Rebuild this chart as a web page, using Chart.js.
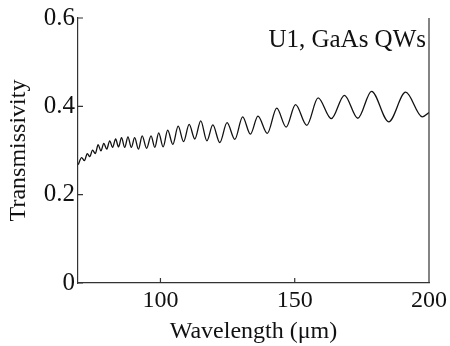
<!DOCTYPE html>
<html>
<head>
<meta charset="utf-8">
<script src="https://cdn.jsdelivr.net/npm/chart.js@4.4.1/dist/chart.umd.min.js"></script>
<style>
  html, body { margin: 0; padding: 0; background: #fff; }
  #wrap { width: 450px; height: 346px; }
</style>
</head>
<body>
<div id="wrap"><canvas id="transChart"></canvas></div>
<script>
// peaks and troughs
const wavelength = [69.4, 70.65, 71.7, 72.75, 73.7, 74.7, 75.75, 76.8, 77.85, 78.9, 80.0, 81.1, 82.2, 83.3, 84.4, 85.5, 86.7, 87.9, 89.15, 90.4, 91.8, 93.2, 94.85, 96.5, 97.9, 99.35, 101.0, 102.7, 104.6, 106.6, 108.6, 110.7, 112.8, 115.0, 117.3, 119.5, 122.1, 124.8, 127.7, 130.6, 133.5, 136.3, 139.8, 143.3, 146.8, 150.3, 154.5, 158.7, 163.6, 168.5, 173.5, 178.6, 185.0, 191.3, 197.5, 200.0];
const transmissivity = [0.268, 0.284, 0.277, 0.293, 0.286, 0.301, 0.293, 0.313, 0.299, 0.316, 0.303, 0.322, 0.307, 0.326, 0.308, 0.329, 0.307, 0.331, 0.307, 0.329, 0.303, 0.333, 0.305, 0.333, 0.307, 0.340, 0.308, 0.346, 0.314, 0.355, 0.320, 0.359, 0.326, 0.367, 0.322, 0.358, 0.318, 0.363, 0.325, 0.376, 0.337, 0.378, 0.339, 0.396, 0.353, 0.404, 0.357, 0.419, 0.372, 0.425, 0.373, 0.434, 0.365, 0.432, 0.376, 0.386];
const xTicks = [100, 150, 200];
const yTicks = [0, 0.2, 0.4, 0.6];
const sampleLabel = "U1, GaAs QWs";

const serif = "'Liberation Serif', 'DejaVu Serif', serif";
const axisColor = "#333";

// inward tick marks, right frame line and the sample label
const framePlugin = {
    id: "frame",
    afterDraw(chart) {
        const ctx = chart.ctx;
        const area = chart.chartArea;
        const xs = chart.scales.x;
        const ys = chart.scales.y;
        ctx.save();
        ctx.strokeStyle = axisColor;
        ctx.lineWidth = 1.2;
        ctx.beginPath();
        ctx.moveTo(area.right, area.top);
        ctx.lineTo(area.right, area.bottom);
        xTicks.forEach(v => {
            const px = xs.getPixelForValue(v);
            ctx.moveTo(px, area.bottom);
            ctx.lineTo(px, area.bottom - 5);
        });
        yTicks.forEach(v => {
            const py = ys.getPixelForValue(v);
            ctx.moveTo(area.left, py);
            ctx.lineTo(area.left + 5, py);
        });
        ctx.stroke();

        ctx.fillStyle = "#111";
        ctx.font = "25px " + serif;
        ctx.textAlign = "right";
        ctx.textBaseline = "alphabetic";
        ctx.fillText(sampleLabel, area.right - 3, area.top + 29);
        ctx.restore();
    }
};

new Chart(document.getElementById("transChart"), {
    type: "line",
    data: {
        datasets: [{
            data: wavelength.map((w, i) => ({ x: w, y: transmissivity[i] })),
            borderColor: "#111",
            borderWidth: 1.3,
            pointRadius: 0,
            fill: false,
            cubicInterpolationMode: "monotone"
        }]
    },
    options: {
        responsive: true,
        maintainAspectRatio: false,
        animation: false,
        layout: { padding: { top: 16, right: 19, left: 0, bottom: 0 } },
        plugins: {
            legend: { display: false },
            tooltip: { enabled: false }
        },
        scales: {
            x: {
                type: "linear",
                min: 69.3,
                max: 200,
                afterBuildTicks: scale => { scale.ticks = xTicks.map(v => ({ value: v })); },
                afterFit: scale => { scale.height = 63; },
                grid: { display: false, drawTicks: false },
                border: { display: true, color: axisColor, width: 1.2 },
                ticks: {
                    color: "#111",
                    padding: 3,
                    maxRotation: 0,
                    font: { family: serif, size: 24 }
                },
                title: {
                    display: true,
                    text: "Wavelength (μm)",
                    color: "#111",
                    padding: 0,
                    font: { family: serif, size: 24 }
                }
            },
            y: {
                min: 0,
                max: 0.6,
                afterBuildTicks: scale => { scale.ticks = yTicks.map(v => ({ value: v })); },
                afterFit: scale => { scale.width = 78; },
                grid: { display: false, drawTicks: false },
                border: { display: true, color: axisColor, width: 1.2 },
                ticks: {
                    color: "#111",
                    padding: 3,
                    font: { family: serif, size: 25 },
                    callback: v => v === 0 ? "0" : v.toFixed(1)
                },
                title: {
                    display: true,
                    text: "Transmissivity",
                    color: "#111",
                    padding: { top: 4, bottom: 0 },
                    font: { family: serif, size: 24 }
                }
            }
        }
    },
    plugins: [framePlugin]
});
</script>
</body>
</html>
